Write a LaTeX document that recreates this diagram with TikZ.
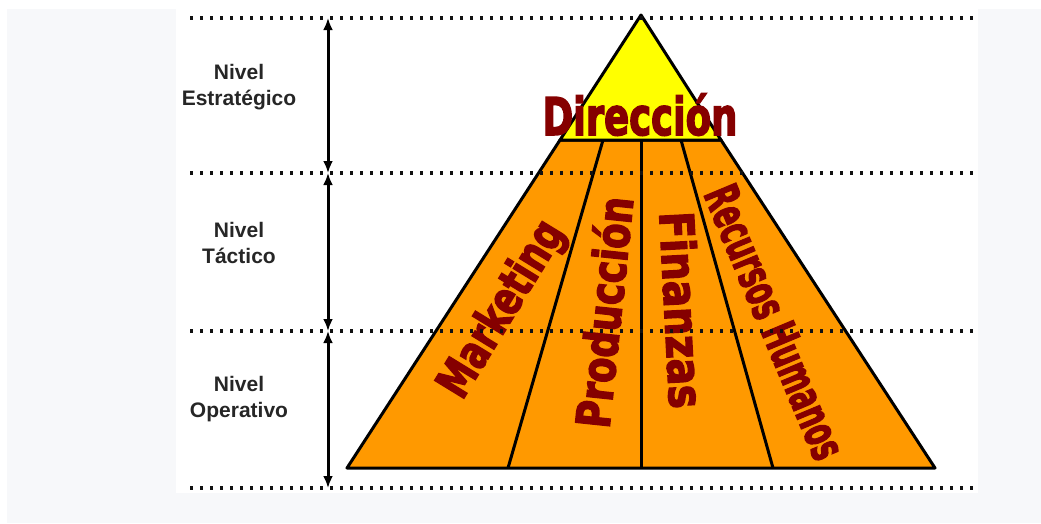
\documentclass[tikz,border=0pt]{standalone}
\usepackage{fontspec}
\setmainfont{Liberation Sans}
\newfontfamily\impfont{DejaVu Sans Condensed Bold}[FakeBold=3]
\usetikzlibrary{arrows.meta,calc}
\definecolor{dred}{HTML}{850000}
\definecolor{pyel}{HTML}{FFFF00}
\definecolor{porg}{HTML}{FF9900}
\definecolor{bggray}{HTML}{F7F8FA}
\definecolor{lbl}{HTML}{262626}
\definecolor{dotc}{HTML}{111111}
\newcommand\impw[3]{\resizebox{#1}{\height}{\impfont\fontsize{#2}{#2}\selectfont #3}}
\begin{document}
\begin{tikzpicture}[x=1pt,y=-1pt,
  pyr/.style={draw=black,line width=3pt,line join=round},
  divline/.style={draw=black,line width=3pt},
  dotline/.style={draw=dotc,line width=3.4pt,dash pattern=on 3.4pt off 6.6pt},
  lvlarrow/.style={draw=black,line width=3pt,{Latex[length=12pt,width=10pt]}-{Latex[length=12pt,width=10pt]}},
  lvllabel/.style={text=lbl,font=\bfseries\fontsize{21}{26}\selectfont,align=center,inner sep=0pt},
  bigtxt/.style={text=dred,inner sep=0pt}]
\useasboundingbox (0,0) rectangle (1041,523);
\fill[white] (0,0) rectangle (1041,523);
\fill[bggray] (7,9) rectangle (1041,523);
\fill[white] (176,0) rectangle (978,493);
% pyramid
\coordinate (A) at (641,15);
\coordinate (BL) at (347,468);
\coordinate (BR) at (935,468);
\coordinate (TL) at (560,140);
\coordinate (TR) at (721,140);
\coordinate (D1t) at (603,140); \coordinate (D1b) at (508,468);
\coordinate (D2t) at (641,140); \coordinate (D2b) at (641,468);
\coordinate (D3t) at (681,140); \coordinate (D3b) at (773,468);
\filldraw[pyr,fill=porg] (TL) -- (BL) -- (BR) -- (TR) -- cycle;
\filldraw[pyr,fill=pyel] (A) -- (TL) -- (TR) -- cycle;
\draw[divline] (D1t) -- (D1b);
\draw[divline] (D2t) -- (D2b);
\draw[divline] (D3t) -- (D3b);
% texts
\node[bigtxt,anchor=base] (dir) at (640,135) {\impw{195pt}{52}{Dirección}};
\node[bigtxt,rotate=58.5] (mkt) at (503,310) {\impw{198pt}{47}{Marketing}};
\node[bigtxt,rotate=84] (prod) at (603,312) {\impw{232pt}{47}{Producción}};
\node[bigtxt,rotate=-87] (fin) at (682,310) {\impw{197pt}{47}{Finanzas}};
\node[bigtxt,rotate=-67.3] (rh) at (775,322) {\impw{292pt}{47}{Recursos Humanos}};
% dotted level lines
\coordinate (L1a) at (190,18);  \coordinate (L1b) at (975,18);
\coordinate (L2a) at (190,173); \coordinate (L2b) at (975,173);
\coordinate (L3a) at (190,331); \coordinate (L3b) at (975,331);
\coordinate (L4a) at (190,488); \coordinate (L4b) at (975,488);
\draw[dotline] (L1a) -- (L1b);
\draw[dotline] (L2a) -- (L2b);
\draw[dotline] (L3a) -- (L3b);
\draw[dotline] (L4a) -- (L4b);
% arrows
\coordinate (V1) at (328,18);
\coordinate (V2) at (328,173);
\coordinate (V3) at (328,331);
\coordinate (V4) at (328,488);
\draw[lvlarrow] (V1) -- (V2);
\draw[lvlarrow] (V2) -- (V3);
\draw[lvlarrow] (V3) -- (V4);
% level labels
\node[lvllabel] (n1) at (239,87) {Nivel\\Estratégico};
\node[lvllabel] (n2) at (239,243) {Nivel\\Táctico};
\node[lvllabel] (n3) at (239,399) {Nivel\\Operativo};
\end{tikzpicture}
\end{document}
